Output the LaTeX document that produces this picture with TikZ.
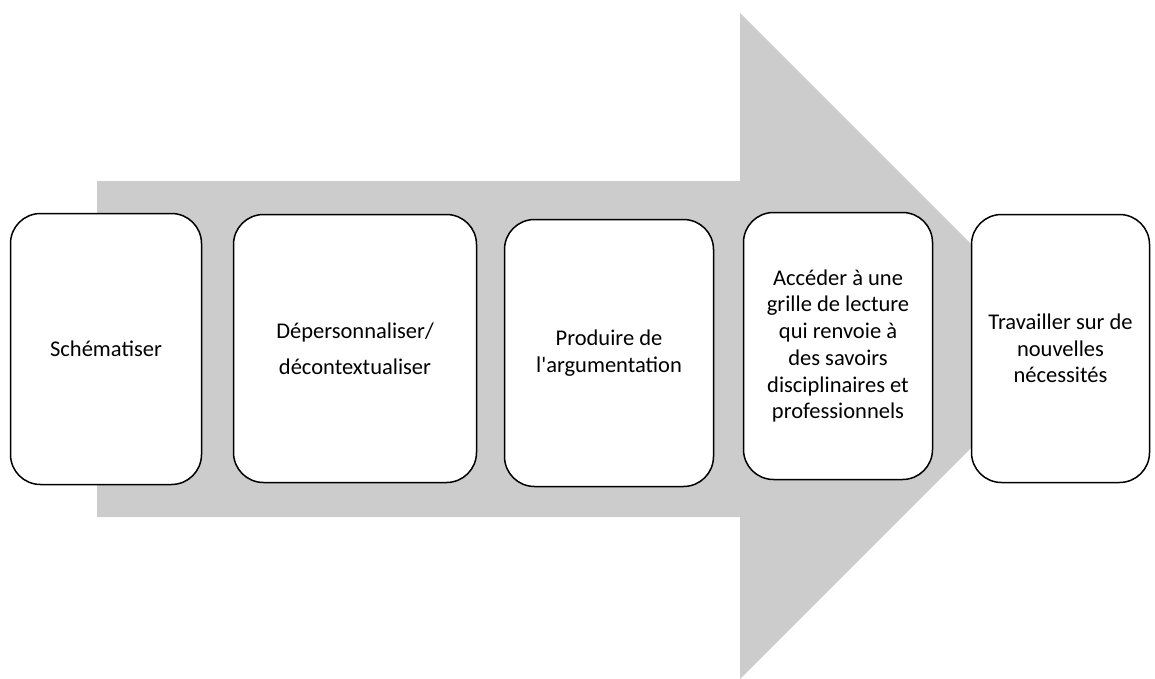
\documentclass[tikz,border=0pt]{standalone}
\usepackage{fontspec}
\setmainfont{Carlito}
\begin{document}
\begin{tikzpicture}
  [x=1pt,y=-1pt,every node/.style={rectangle,rounded corners=30pt,draw,line width=1.5pt,fill=white,
    align=center,inner sep=0pt,font=\fontsize{22.5}{26.7}\selectfont}]
  \useasboundingbox (0,0) rectangle (1155,679);
  % big grey arrow behind the stages
  \fill[gray!40] (97,181) -- (740,181) -- (740,13) -- (1073,346) -- (740,679) -- (740,517) -- (97,517) -- cycle;

  \node[minimum width=191pt,minimum height=271pt] (schema) at (106,349) {Schématiser};
  \node[minimum width=243pt,minimum height=268pt] (deperso) at (355,348.5) {Dépersonnaliser/\\[9pt]décontextualiser};
  \node[minimum width=209pt,minimum height=267pt] (argu) at (609,353) {Produire de\\l\textquotesingle argumentation};
  \node[minimum width=189pt,minimum height=267pt] (grille) at (838,346) {Accéder à une\\grille de lecture\\qui renvoie à\\des savoirs\\disciplinaires et\\professionnels};
  \node[minimum width=178pt,minimum height=268pt] (besoins) at (1060.5,348.5) {Travailler sur de\\nouvelles\\nécessités};
\end{tikzpicture}
\end{document}
